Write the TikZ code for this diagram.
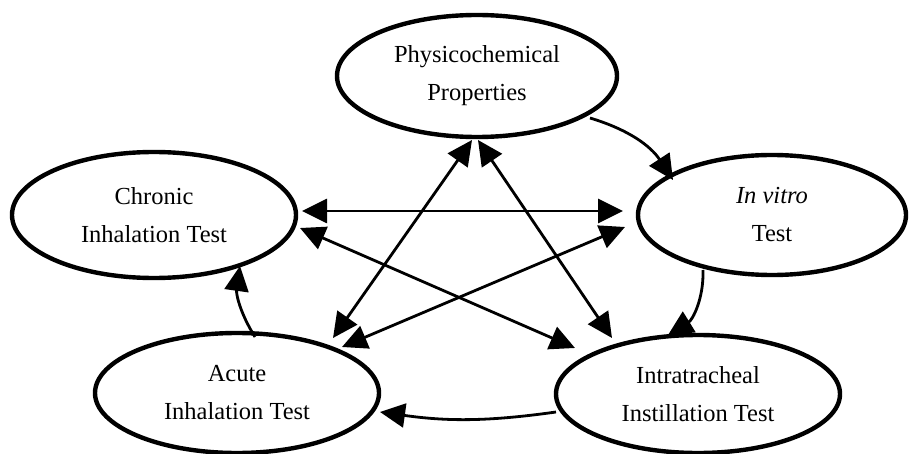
\documentclass[tikz,border=0pt]{standalone}
\usepackage{fontspec}
\setmainfont{Liberation Serif}
\usetikzlibrary{shapes.geometric,arrows.meta,calc}
\begin{document}
\begin{tikzpicture}[x=1pt,y=-1pt,
  oval/.style={ellipse,draw,line width=4.4pt,inner sep=0pt,align=center,
    font=\fontsize{24.5}{38}\selectfont},
  conn/.style={line width=2.8pt,-{Triangle[length=25pt,width=24pt]}},
  both/.style={line width=2.8pt,{Triangle[length=25pt,width=24pt]}-{Triangle[length=25pt,width=24pt]}}]
\useasboundingbox (0,0) rectangle (912,454);
\node[oval,minimum width=280pt,minimum height=122pt] (phys) at (477,76) {Physicochemical\\Properties};
\node[oval,minimum width=268pt,minimum height=120pt] (vitro) at (772,215) {\textit{In vitro}\\Test};
\node[oval,minimum width=284pt,minimum height=126pt] (chron) at (154,215) {Chronic\\Inhalation Test};
\node[oval,minimum width=284pt,minimum height=120pt] (acute) at (237,393) {Acute\\Inhalation Test};
\node[oval,minimum width=284pt,minimum height=118pt] (intra) at (698,394) {Intratracheal\\Instillation Test};
% curved one-way arrows
\draw[conn] ($(phys)+(113,42)$) to[bend left=20] ($(vitro)+(-99,-35)$);
\draw[conn] ($(vitro)+(-69,55)$) to[bend left=30] ($(intra)+(-30,-59)$);
\draw[conn] ($(intra)+(-142,18)$) to[bend left=8] ($(acute)+(143,19)$);
\draw[conn] ($(acute)+(18,-56)$) to[bend left=20] ($(chron)+(86,51)$);
% straight double arrows
\draw[both] ($(chron)+(148,-4)$) -- ($(vitro)+(-149,-4)$);
\draw[both] ($(chron)+(146,13)$) -- ($(intra)+(-123,-46)$);
\draw[both] ($(acute)+(105,-46)$) -- ($(vitro)+(-147,12)$);
\draw[both] ($(acute)+(96,-55)$) -- ($(phys)+(-5,64)$);
\draw[both] ($(phys)+(1,64)$) -- ($(intra)+(-86,-56)$);
\end{tikzpicture}
\end{document}
